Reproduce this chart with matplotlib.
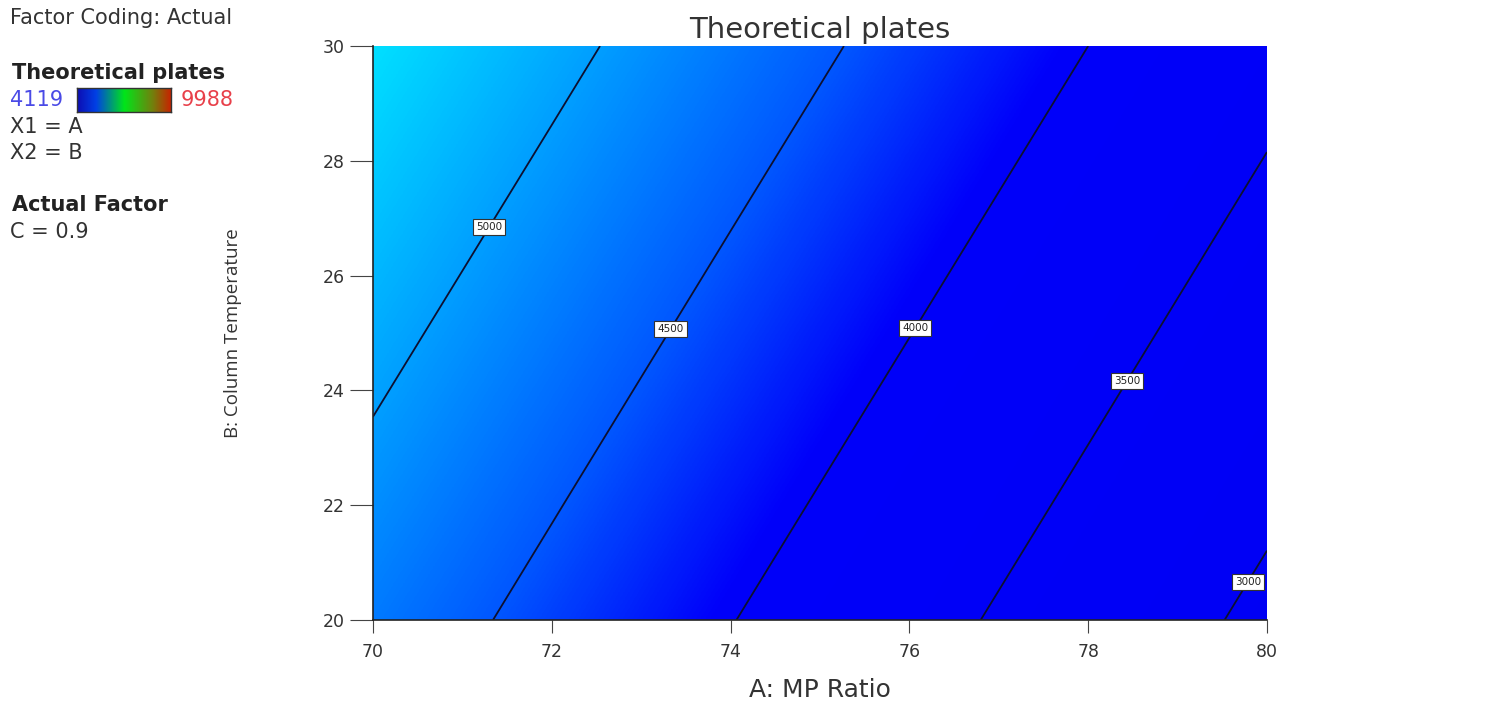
import numpy as np
import matplotlib
matplotlib.use("Agg")
import matplotlib.pyplot as plt
from matplotlib.colors import LinearSegmentedColormap

# grid points (A: MP Ratio, B: Column Temperature)
a_vals = [70, 72, 74, 76, 78, 80]
b_vals = [20, 22, 24, 26, 28, 30]
# Theoretical plates (rows = B, cols = A)
plates = [
    [4745, 4380, 4012, 3646, 3280, 2913],
    [4889, 4523, 4156, 3790, 3424, 3057],
    [5033, 4667, 4300, 3934, 3568, 3201],
    [5177, 4811, 4444, 4078, 3712, 3345],
    [5321, 4955, 4588, 4222, 3856, 3489],
    [5465, 5099, 4732, 4366, 4000, 3633],
]
levels = [3000, 3500, 4000, 4500, 5000]
label_pos = [(79.7, 20.75), (78.4, 24.2), (76.05, 25.1), (73.3, 25.1), (71.3, 26.85)]
x_ticks = [70, 72, 74, 76, 78, 80]
y_ticks = [20, 22, 24, 26, 28, 30]
z_low, z_high = 4119, 9988

plt.rcParams['font.family'] = ['DejaVu Sans']
txt_col = '#333333'

fig = plt.figure(figsize=(14.86, 7.17), dpi=100)
ax = fig.add_axes([0.251, 0.1353, 0.6016, 0.8005])

Z = np.array(plates, dtype=float)
# fill colours: blue below the low end, fading to cyan
vmin, vmax = 2900, 5470
def n(v):
    return (v - vmin) / (vmax - vmin)
fill_cmap = LinearSegmentedColormap.from_list('fill', [
    (0.0, (0.0, 0.0, 0.96)),
    (n(4050), (0.0, 0.0, 0.98)),
    (n(4500), (0.0, 0.34, 1.0)),
    (n(5000), (0.0, 0.62, 1.0)),
    (1.0, (0.0, 0.88, 1.0)),
])
ax.imshow(Z, extent=[69, 81, 19, 31], origin='lower', cmap=fill_cmap,
          vmin=vmin, vmax=vmax, interpolation='bilinear',
          interpolation_stage='data', aspect='auto')

X, Y = np.meshgrid(a_vals, b_vals)
cs = ax.contour(X, Y, Z, levels=levels, colors='#0d1030', linewidths=1.3)
lbls = ax.clabel(cs, fmt='%d', manual=label_pos, inline=False, fontsize=7.5)
for t in lbls:
    t.set_rotation(0)
    t.set_color('#222222')
    t.set_bbox(dict(boxstyle='square,pad=0.3', fc='white', ec='#333333', lw=0.8))

ax.set_xlim(70, 80)
ax.set_ylim(20, 30)
ax.set_xticks(x_ticks)
ax.set_yticks(y_ticks)
ax.tick_params(axis='x', length=9.5, pad=7, labelsize=12.5, colors='#444444', labelcolor=txt_col)
ax.tick_params(axis='y', length=16.5, pad=4, labelsize=12.5, colors='#444444', labelcolor=txt_col)
for s in ['top', 'right']:
    ax.spines[s].set_visible(False)
for s in ['left', 'bottom']:
    ax.spines[s].set_color('#222222')
    ax.spines[s].set_linewidth(1.2)

ax.set_title('Theoretical plates', fontsize=21, color=txt_col, pad=6)
ax.set_xlabel('A: MP Ratio', fontsize=18, color=txt_col, labelpad=12)
ax.set_ylabel('B: Column Temperature', fontsize=13.5, color=txt_col, labelpad=58,
              family=['Open Sans', 'DejaVu Sans'])

# left-hand legend block
W, H = 1486, 717
def fx(px):
    return px / W
def fy(py):
    return 1 - py / H

fig.text(fx(10), fy(18), 'Factor Coding: Actual', fontsize=15, color=txt_col, va='center')
fig.text(fx(12), fy(73), 'Theoretical plates', fontsize=15, color='#222222', va='center', weight='bold')
fig.text(fx(10), fy(100), str(z_low), fontsize=15, color='#4a4ae6', va='center')
fig.text(fx(181), fy(100), str(z_high), fontsize=15, color='#e8404a', va='center')
fig.text(fx(10), fy(127), 'X1 = A', fontsize=15, color=txt_col, va='center')
fig.text(fx(10), fy(153), 'X2 = B', fontsize=15, color=txt_col, va='center')
fig.text(fx(12), fy(205), 'Actual Factor', fontsize=15, color='#222222', va='center', weight='bold')
fig.text(fx(10), fy(232), 'C = 0.9', fontsize=15, color=txt_col, va='center')

leg_cmap = LinearSegmentedColormap.from_list('leg', [
    (0.0, (0.05, 0.05, 0.7)), (0.2, (0.0, 0.25, 0.9)), (0.5, (0.0, 0.9, 0.1)),
    (0.8, (0.45, 0.5, 0.05)), (1.0, (0.8, 0.12, 0.0))])
cax = fig.add_axes([fx(77), fy(112), fx(171) - fx(77), fy(88) - fy(112)])
cax.imshow(np.linspace(0, 1, 256)[None, :], cmap=leg_cmap, aspect='auto')
cax.set_xticks([])
cax.set_yticks([])
for s in cax.spines.values():
    s.set_color('#333333')
    s.set_linewidth(1)

fig.savefig('out.png', dpi=100)
